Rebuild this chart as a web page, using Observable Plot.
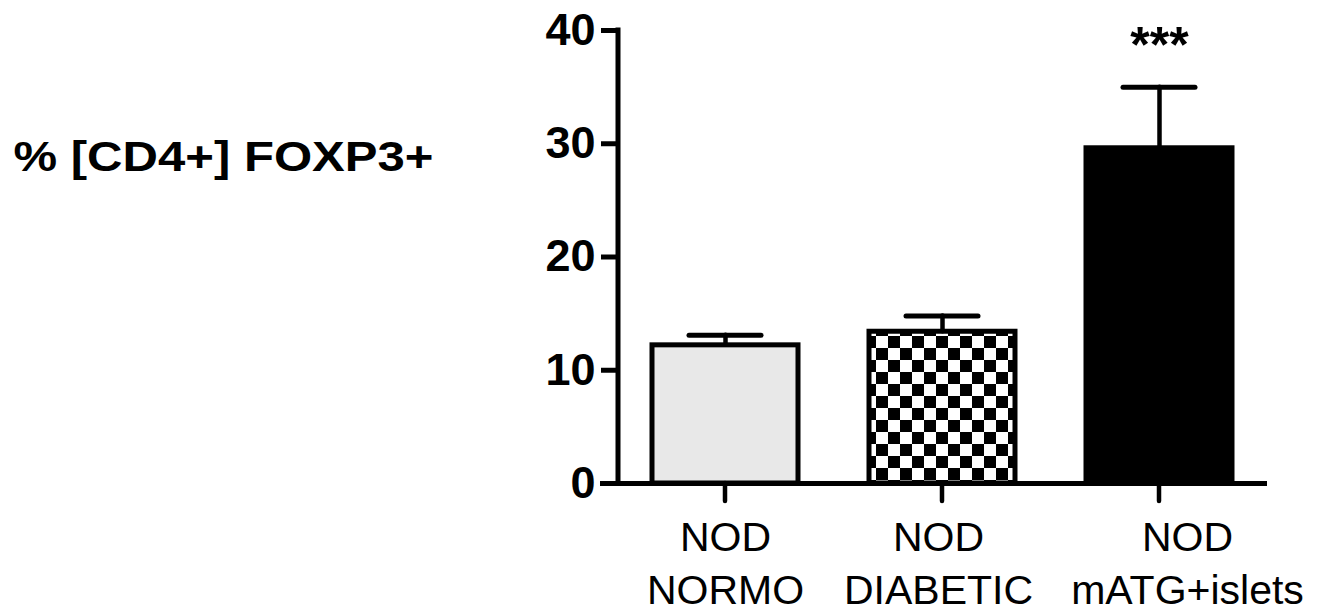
<!DOCTYPE html>
<html>
<head>
<meta charset="utf-8">
<script src="https://cdn.jsdelivr.net/npm/d3@7"></script>
<script src="https://cdn.jsdelivr.net/npm/@observablehq/plot@0.6"></script>
<style>
  html, body { margin: 0; padding: 0; background: #fff; }
  svg { display: block; }
</style>
</head>
<body>
<div id="chart"></div>
<script>
// ---- data ----
const categories = ["NOD\nNORMO", "NOD\nDIABETIC", "NOD\nmATG+islets"];
const means = [12.2, 13.4, 29.6];
const upperErrors = [13.1, 14.8, 35.0];
const significance = ["", "", "***"];
const fills = ["#e8e8e8", "url(#checker)", "#000000"];
const yTicks = [0, 10, 20, 30, 40];
const yLabel = "% [CD4+] FOXP3+";

const rows = categories.map((c, i) => ({
  group: c, mean: means[i], upper: upperErrors[i], sig: significance[i], fill: fills[i]
}));

const font = "Liberation Sans, Arial, Helvetica, sans-serif";
const labelStyle = { frameAnchor: "bottom", lineAnchor: "top", dy: 30, fontSize: 41, lineHeight: 1.29, fill: "#000" };

const chart = Plot.plot({
  width: 1317,
  height: 616,
  marginLeft: 618,
  marginRight: 50,
  marginTop: 30,
  marginBottom: 133,
  style: { fontFamily: font, background: "#fff", color: "#000" },
  x: { domain: categories, paddingInner: 0.327, paddingOuter: 0.157, axis: null },
  y: { domain: [0, 40], axis: null },
  color: { type: "identity" },
  marks: [
    Plot.barY(rows, { x: "group", y: "mean", fill: "fill", stroke: "#000", strokeWidth: 5 }),
    Plot.ruleX(rows, { x: "group", y1: "mean", y2: "upper", stroke: "#000", strokeWidth: 4.5, strokeLinecap: "round" }),
    Plot.tickY(rows, { x: "group", y: "upper", stroke: "#000", strokeWidth: 5, strokeLinecap: "round", insetLeft: 37, insetRight: 37 }),
    Plot.ruleY([0], { stroke: "#000", strokeWidth: 5, insetLeft: -18 }),
    Plot.axisY({ ticks: yTicks, tickSize: 17, tickPadding: 6, fontSize: 45, fontWeight: "bold", strokeWidth: 5, label: null, tickFormat: d3.format("d") }),
    Plot.text(categories.slice(0, 1), { ...labelStyle, x: d => d, text: d => d }),
    Plot.text(categories.slice(1, 2), { ...labelStyle, x: d => d, text: d => d, dx: -4 }),
    Plot.text(categories.slice(2), { ...labelStyle, x: d => d, text: d => d, dx: 28 }),
    Plot.text(rows.filter(r => r.sig), { x: "group", y: "upper", text: "sig", lineAnchor: "top", dy: -61, fontSize: 50, fontWeight: "bold", fill: "#000" }),
    Plot.text([yLabel], { frameAnchor: "top-left", textAnchor: "start", lineAnchor: "top", dx: -605, dy: 111, fontSize: 42, fontWeight: "bold", fill: "#000" })
  ]
});

// checker pattern definition for the DIABETIC bar
const ns = "http://www.w3.org/2000/svg";
const defs = document.createElementNS(ns, "defs");
defs.innerHTML = `<pattern id="checker" patternUnits="userSpaceOnUse" width="24" height="24">
  <rect width="24" height="24" fill="#fff"/>
  <rect x="0" y="0" width="12" height="12" fill="#000"/>
  <rect x="12" y="12" width="12" height="12" fill="#000"/>
</pattern>`;
chart.insertBefore(defs, chart.firstChild);

// the reference label is drawn horizontally wide
d3.select(chart).selectAll("text").filter(function () { return this.textContent === yLabel; })
  .attr("textLength", 420).attr("lengthAdjust", "spacingAndGlyphs");

// y axis line and x tick marks, positioned through Plot's scales
const xs = chart.scale("x"), ys = chart.scale("y");
const y0 = ys.apply(0), y40 = ys.apply(40);
const left = xs.range[0];
const g = d3.select(chart).append("g").attr("stroke", "#000").attr("stroke-width", 5);
g.append("line").attr("x1", left).attr("x2", left).attr("y1", y40 - 2.5).attr("y2", y0 + 2.5);
categories.forEach(c => {
  const cx = xs.apply(c) + xs.bandwidth / 2;
  g.append("line").attr("x1", cx).attr("x2", cx).attr("y1", y0).attr("y2", y0 + 18)
    .attr("stroke-width", 4.5).attr("stroke-linecap", "round");
});

document.getElementById("chart").appendChild(chart);
</script>
</body>
</html>
